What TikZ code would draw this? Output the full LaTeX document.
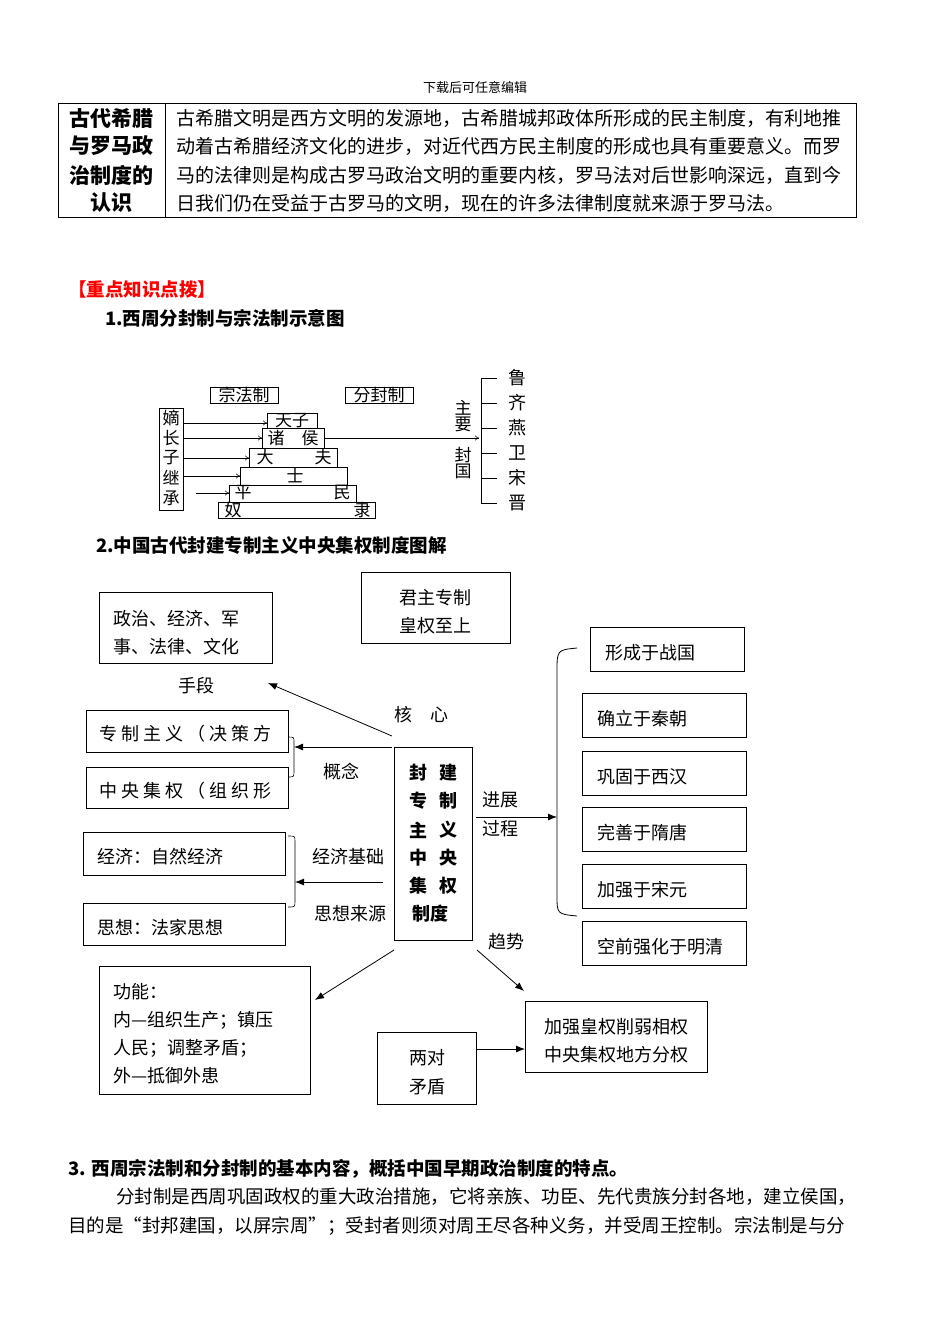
\documentclass[tikz,border=0pt]{standalone}
\usepackage{fontspec}
\setmainfont{Noto Sans CJK SC}
\usetikzlibrary{arrows.meta}
\tikzset{
 t/.style={inner sep=0pt,font=\fontsize{18}{20}\selectfont},
 tl/.style={t,anchor=west},
 bx/.style={draw,line width=0.8pt},
 ar/.style={-{Latex[length=9pt,width=7pt]},line width=0.8pt},
 sa/.style={-{To[length=4pt,width=5pt]},line width=0.5pt},
 py/.style={draw,line width=0.6pt},
 pt/.style={inner sep=0pt,font=\fontsize{17}{18}\selectfont},
 bt/.style={inner sep=0pt,anchor=west,font=\fontsize{18.5}{20}\bfseries\selectfont}
}
\begin{document}
\begin{tikzpicture}[x=1pt,y=-1pt]
\useasboundingbox (0,0) rectangle (950,1342);
\fill[white] (0,0) rectangle (950,1342);
\node[t,font=\fontsize{13}{14}\selectfont] (hd) at (475,88) {下载后可任意编辑};
% table
\draw[line width=0.8pt] (58,103) rectangle (856,217);
\draw[line width=0.8pt] (165,103) -- (165,217);
\foreach \s/\y [count=\i] in {古代希腊/118,与罗马政/146,治制度的/175,认识/203}
  \node[t,font=\fontsize{21}{22}\bfseries\selectfont] (L\i) at (111,\y) {\s};
\foreach \s/\y [count=\i] in {古希腊文明是西方文明的发源地，古希腊城邦政体所形成的民主制度，有利地推/118,动着古希腊经济文化的进步，对近代西方民主制度的形成也具有重要意义。而罗/146,马的法律则是构成古罗马政治文明的重要内核，罗马法对后世影响深远，直到今/175,日我们仍在受益于古罗马的文明，现在的许多法律制度就来源于罗马法。/203}
  \node[tl,font=\fontsize{19}{20}\selectfont] (R\i) at (176,\y) {\s};
\node[bt,text=red] (h1) at (68,289) {【重点知识点拨】};
\node[bt] (h2) at (105,318) {1.西周分封制与宗法制示意图};
% pyramid
\node[py,pt,minimum width=68pt,minimum height=16pt] (zf) at (244,395) {宗法制};
\node[py,pt,minimum width=68pt,minimum height=16pt] (ff) at (379,395) {分封制};
\draw[py] (159,408) rectangle (183,510);
\foreach \s/\y [count=\i] in {嫡/418,长/438,子/458,继/478,承/498}
  \node[pt] (c\i) at (171,\y) {\s};
\draw[py] (267,413) rectangle (317,428); \node[pt] (tz) at (292,421) {天子};
\draw[py] (262,428) rectangle (324,448); \node[pt] (zh) at (293,438) {诸\quad 侯};
\draw[py] (249,448) rectangle (337,467); \node[pt] at (265,457) {大}; \node[pt] at (323,457) {夫};
\draw[py] (240,467) rectangle (347,485); \node[pt] at (295,476) {士};
\draw[py] (229,485) rectangle (356,502); \node[pt] at (243,493) {平}; \node[pt] at (342,493) {民};
\draw[py] (218,502) rectangle (375,518); \node[pt] at (233,510) {奴}; \node[pt] at (362,510) {隶};
\coordinate (a1) at (267,423); \coordinate (a2) at (262,438); \coordinate (a3) at (249,458);
\coordinate (a4) at (240,476); \coordinate (a5) at (229,493);
\draw[sa] (183,423) -- (a1); \draw[sa] (183,438) -- (a2); \draw[sa] (183,458) -- (a3);
\draw[sa] (183,476) -- (a4); \draw[sa] (196,493) -- (a5);
\coordinate (br) at (479,438);
\draw[sa] (324,438) -- (br);
\node[pt] (zy1) at (463,408) {主}; \node[pt] (zy2) at (463,424) {要};
\node[pt] (fg1) at (463,455) {封}; \node[pt] (fg2) at (463,471) {国};
\draw[line width=0.6pt] (497,378) -- (481,378) -- (481,503) -- (497,503);
\foreach \s/\y [count=\i] in {鲁/378,齐/403,燕/428,卫/453,宋/478,晋/503}{
  \draw[line width=0.6pt] (481,\y) -- (497,\y);
  \node[pt,font=\fontsize{18}{19}\selectfont] (g\i) at (517,\y) {\s};}
\node[bt] (h3) at (96,545) {2.中国古代封建专制主义中央集权制度图解};
% diagram
\draw[bx] (361,572) rectangle (510,643);
\node[t] (jz1) at (435,598) {君主专制}; \node[t] (jz2) at (435,626) {皇权至上};
\draw[bx] (99,592) rectangle (272,663);
\node[tl] at (113,619) {政治、经济、军}; \node[tl] at (113,647) {事、法律、文化};
\node[t] (sd) at (196,686) {手段};
\node[t] at (421,715) {核\quad 心};
\draw[bx] (86,710) rectangle (288,752); \node[tl] at (99,734) {专 制 主 义 （ 决 策 方};
\draw[bx] (86,767) rectangle (288,808); \node[tl] at (99,791) {中 央 集 权 （ 组 织 形};
\node[t] at (341,772) {概念};
\draw[bx] (394,747) rectangle (472,940);
\foreach \a/\b/\y in {封/建/773,专/制/801,主/义/830,中/央/858,集/权/886}{
 \node[t,font=\fontsize{18}{20}\bfseries\selectfont] at (418,\y) {\a};
 \node[t,font=\fontsize{18}{20}\bfseries\selectfont] at (448,\y) {\b};}
\node[t,font=\fontsize{18}{20}\bfseries\selectfont] (cb) at (430,914) {制度};
\draw[ar] (392,736) -- (268,683);
\draw[line width=0.6pt] (288,737) .. controls (294,737) .. (294,742) -- (294,771) .. controls (294,777) .. (288,777);
\draw[ar] (392,747) -- (294,747);
\draw[bx] (83,832) rectangle (285,875); \node[tl] at (97,857) {经济：自然经济};
\draw[bx] (83,903) rectangle (285,945); \node[tl] at (97,928) {思想：法家思想};
\draw[line width=0.6pt] (288,836) .. controls (295,836) .. (295,842) -- (295,901) .. controls (295,907) .. (288,907);
\draw[ar] (383,882) -- (295,882);
\node[t] at (348,857) {经济基础}; \node[t] at (350,914) {思想来源};
\node[t] at (500,800) {进展}; \node[t] at (500,829) {过程};
\draw[ar] (476,817) -- (557,817);
\draw[line width=0.8pt] (577,648) .. controls (557,650) .. (557,672) -- (557,895) .. controls (557,914) .. (577,916);
\draw[bx] (590,627) rectangle (744,671); \node[tl] at (605,653) {形成于战国};
\foreach \s/\y in {确立于秦朝/693,巩固于西汉/751,完善于隋唐/807,加强于宋元/864,空前强化于明清/921}{
 \draw[bx] (582,\y) rectangle (746,\y+44); \node[tl] at (597,\y+26) {\s};}
\node[t] at (506,942) {趋势};
\draw[ar] (477,950) -- (524,991);
\draw[ar] (394,950) -- (315,1000);
\draw[bx] (99,966) rectangle (310,1094);
\node[tl] at (113,992) {功能：}; \node[tl] at (113,1020) {内—组织生产；镇压};
\node[tl] at (113,1048) {人民；调整矛盾；}; \node[tl] at (113,1076) {外—抵御外患};
\draw[bx] (377,1032) rectangle (476,1104);
\node[t] at (427,1058) {两对}; \node[t] at (427,1087) {矛盾};
\draw[bx] (525,1001) rectangle (707,1072);
\node[t] at (616,1027) {加强皇权削弱相权}; \node[t] at (616,1055) {中央集权地方分权};
\draw[ar] (476,1049) -- (525,1049);
\node[bt] at (68,1169) {3. 西周宗法制和分封制的基本内容，概括中国早期政治制度的特点。};
\node[tl,font=\fontsize{18.5}{20}\selectfont] at (116,1197) {分封制是西周巩固政权的重大政治措施，它将亲族、功臣、先代贵族分封各地，建立侯国，};
\node[tl,font=\fontsize{18.5}{20}\selectfont] at (68,1226) {目的是“封邦建国，以屏宗周”；受封者则须对周王尽各种义务，并受周王控制。宗法制是与分};
\end{tikzpicture}
\end{document}
